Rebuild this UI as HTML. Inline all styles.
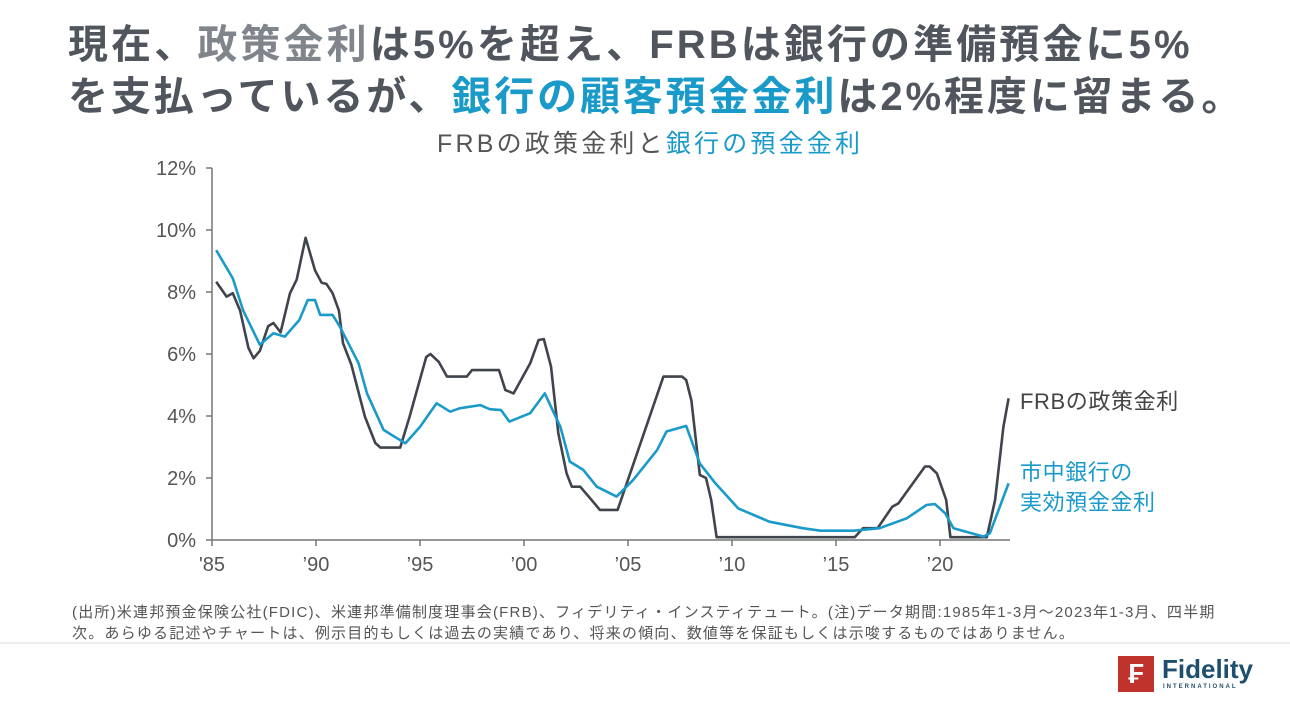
<!DOCTYPE html>
<html><head><meta charset="utf-8">
<style>
body{margin:0;width:1290px;height:708px;background:#fff;overflow:hidden;position:relative;font-family:"Liberation Sans","Noto Sans CJK JP",sans-serif;color:#4a4f58}
.t{position:absolute;white-space:nowrap}
</style></head><body>
<div class="t" style="left:68px;top:12px;font-size:40px;font-weight:bold;color:#50555e;letter-spacing:3.1px">現在、<span style="color:#80858c">政策金利</span>は5%を超え、FRBは銀行の準備預金に5%</div>
<div class="t" style="left:68px;top:64px;font-size:40px;font-weight:bold;color:#50555e;letter-spacing:2.9px">を支払っているが、<span style="color:#1a9ac9">銀行の顧客預金金利</span>は2%程度に留まる。</div>
<div class="t" style="left:437px;top:124px;font-size:25px;color:#555;letter-spacing:3.2px">FRBの政策金利と<span style="color:#1a9ac9">銀行の預金金利</span></div>
<svg id="chart" width="1290" height="708" style="position:absolute;left:0;top:0"></svg>
<div class="t" style="left:1020px;top:384px;font-size:22px;color:#444;letter-spacing:0.6px">FRBの政策金利</div>
<div class="t" style="left:1020px;top:458px;font-size:22px;line-height:30px;color:#1a9ac9;letter-spacing:0.6px">市中銀行の<br>実効預金金利</div>
<div class="t" style="left:72px;top:602px;font-size:15px;line-height:21px;color:#555;letter-spacing:1.2px">(出所)米連邦預金保険公社(FDIC)、米連邦準備制度理事会(FRB)、フィデリティ・インスティテュート。(注)データ期間:1985年1-3月～2023年1-3月、四半期<br>次。あらゆる記述やチャートは、例示目的もしくは過去の実績であり、将来の傾向、数値等を保証もしくは示唆するものではありません。</div>
<div style="position:absolute;left:0;top:642px;width:1290px;height:2px;background:#eee"></div>
<div style="position:absolute;left:1118px;top:656px;width:36px;height:36px;background:#c0332c;color:#fff;font-size:28px;font-weight:bold;text-align:center;line-height:36px">₣</div>
<div class="t" style="left:1162px;top:654px;font-size:26px;font-weight:bold;color:#1f4f6e">Fidelity</div>
<div class="t" style="left:1163px;top:684px;font-size:6px;font-weight:bold;letter-spacing:2px;color:#1f4f6e">INTERNATIONAL</div>
<script>
const frbYears=[1985.2,1985.7,1986.0,1986.35,1986.75,1987.0,1987.3,1987.7,1987.95,1988.3,1988.75,1989.07,1989.5,1989.95,1990.27,1990.5,1990.8,1991.1,1991.3,1991.7,1992.35,1992.85,1993.1,1994.05,1994.5,1995.3,1995.5,1995.9,1996.3,1997.25,1997.5,1998.8,1999.1,1999.5,2000.3,2000.7,2000.95,2001.3,2001.65,2002.05,2002.3,2002.7,2003.25,2003.65,2004.5,2006.7,2007.6,2007.8,2008.05,2008.45,2008.75,2009.0,2009.26,2015.9,2016.3,2017.0,2017.7,2018.0,2019.28,2019.5,2019.85,2020.3,2020.5,2022.25,2022.65,2023.05,2023.3];
const frbValues=[8.33,7.85,7.96,7.4,6.2,5.86,6.1,6.9,7.0,6.7,7.96,8.4,9.75,8.7,8.3,8.26,7.96,7.4,6.35,5.65,3.98,3.13,2.98,2.98,3.98,5.9,6.0,5.75,5.27,5.27,5.48,5.48,4.84,4.73,5.7,6.45,6.48,5.6,3.45,2.15,1.72,1.72,1.29,0.97,0.97,5.27,5.27,5.16,4.5,2.1,2.0,1.29,0.09,0.09,0.38,0.38,1.07,1.18,2.37,2.37,2.15,1.29,0.09,0.09,1.29,3.65,4.57];
const depYears=[1985.2,1986.0,1986.5,1987.3,1987.95,1988.5,1989.2,1989.6,1989.95,1990.2,1990.8,1991.15,1992.05,1992.45,1993.25,1993.9,1994.3,1995.0,1995.8,1996.45,1996.9,1997.9,1998.35,1998.9,1999.3,2000.3,2001.0,2001.75,2002.2,2002.85,2003.5,2004.45,2005.25,2006.4,2006.85,2007.8,2008.45,2009.2,2010.3,2011.8,2013.4,2014.25,2015.85,2017.1,2018.4,2019.35,2019.75,2020.25,2020.65,2022.1,2022.4,2023.3];
const depValues=[9.35,8.44,7.4,6.3,6.67,6.56,7.1,7.74,7.74,7.26,7.26,6.88,5.7,4.73,3.55,3.28,3.12,3.65,4.41,4.14,4.25,4.35,4.22,4.19,3.82,4.09,4.73,3.65,2.53,2.26,1.72,1.4,1.94,2.9,3.5,3.68,2.47,1.83,1.02,0.59,0.38,0.3,0.3,0.38,0.7,1.13,1.16,0.86,0.38,0.11,0.22,1.83];
const yTicks=[0,2,4,6,8,10,12];
const xTicks=[1985,1990,1995,2000,2005,2010,2015,2020];
const xTickLabels=["'85","’90","’95","’00","’05","’10","’15","’20"];
const NS="http://www.w3.org/2000/svg";
const svg=document.getElementById('chart');
const X=y=>212+(y-1985)*20.8;
const Y=v=>540-v*31;
function mk(tag,attrs,parent){const e=document.createElementNS(NS,tag);for(const k in attrs)e.setAttribute(k,attrs[k]);(parent||svg).appendChild(e);return e;}
const ya=mk('line',{x1:212,y1:Y(12),x2:212,y2:540,stroke:'#777','stroke-width':1.5});


const xa=mk('line',{x1:212,y1:540,x2:1010,y2:540,stroke:'#777','stroke-width':1.5});


yTicks.forEach(v=>{
  const tk=mk('line',{x1:206,y1:Y(v),x2:212,y2:Y(v),stroke:'#777','stroke-width':1.5});
  
  
  const t=mk('text',{x:196,y:Y(v)+7,'text-anchor':'end','font-size':20,fill:'#555','font-family':'Liberation Sans, sans-serif'});
  t.textContent=v+'%';
  
  
});
xTicks.forEach((yr,i)=>{
  const tk=mk('line',{x1:X(yr),y1:540,x2:X(yr),y2:546,stroke:'#777','stroke-width':1.5});
  
  
  const t=mk('text',{x:X(yr),y:571,'text-anchor':'middle','font-size':20,fill:'#555','font-family':'Liberation Sans, sans-serif'});
  t.textContent=xTickLabels[i];
  
  
});
function line(xs,vs,color){return mk('polyline',{points:xs.map((x,i)=>X(x).toFixed(1)+','+Y(vs[i]).toFixed(1)).join(' '),fill:'none',stroke:color,'stroke-width':2.6,'stroke-linejoin':'round'});}
const l1=line(frbYears,frbValues,'#40444c');


const l2=line(depYears,depValues,'#1a9ac9');


</script>
</body></html>
